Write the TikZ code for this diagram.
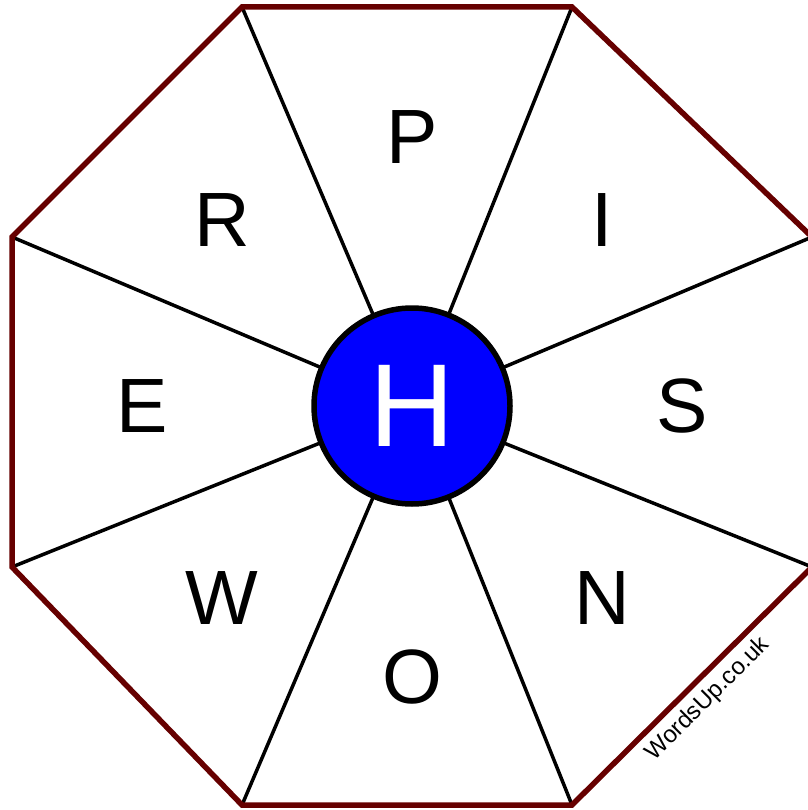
\documentclass[tikz,border=0pt]{standalone}
\usepackage{fontspec}
\setmainfont{Liberation Sans}
\definecolor{rim}{RGB}{102,0,0}
\begin{document}
\begin{tikzpicture}[x=1pt,y=-1pt,
  spoke/.style={draw=black,line width=3.5pt},
  rimline/.style={draw=rim,line width=5.5pt,line join=miter},
  letter/.style={font=\fontsize{77}{77}\selectfont,inner sep=0pt,anchor=center},
  hub/.style={circle,draw=black,line width=5.5pt,fill=blue,minimum size=196pt,inner sep=0pt,text=white,font=\fontsize{118}{118}\selectfont}]
\useasboundingbox (0,0) rectangle (807,810);
\coordinate (c) at (412,406);
\coordinate (v1) at (242,7);
\coordinate (v2) at (572,7);
\coordinate (v3) at (812,237);
\coordinate (v4) at (812,567);
\coordinate (v5) at (572,805);
\coordinate (v6) at (242,805);
\coordinate (v7) at (12,567);
\coordinate (v8) at (12,237);
\foreach \i in {1,...,8} \draw[spoke] (c) -- (v\i);
\draw[rimline] (v1) -- (v2) -- (v3) -- (v4) -- (v5) -- (v6) -- (v7) -- (v8) -- cycle;
\node[hub] (h) at (c) {H};
\node[letter] (p) at (412,137) {P};
\node[letter] (i) at (602,220) {I};
\node[letter] (s) at (682,406) {S};
\node[letter] (n) at (602,598) {N};
\node[letter] (o) at (412,677) {O};
\node[letter] (w) at (222,598) {W};
\node[letter] (e) at (142,406) {E};
\node[letter] (r) at (222,220) {R};
\node[font=\fontsize{24}{24}\selectfont,rotate=45,inner sep=0pt] (wm) at (708,699) {WordsUp.co.uk};
\end{tikzpicture}
\end{document}
